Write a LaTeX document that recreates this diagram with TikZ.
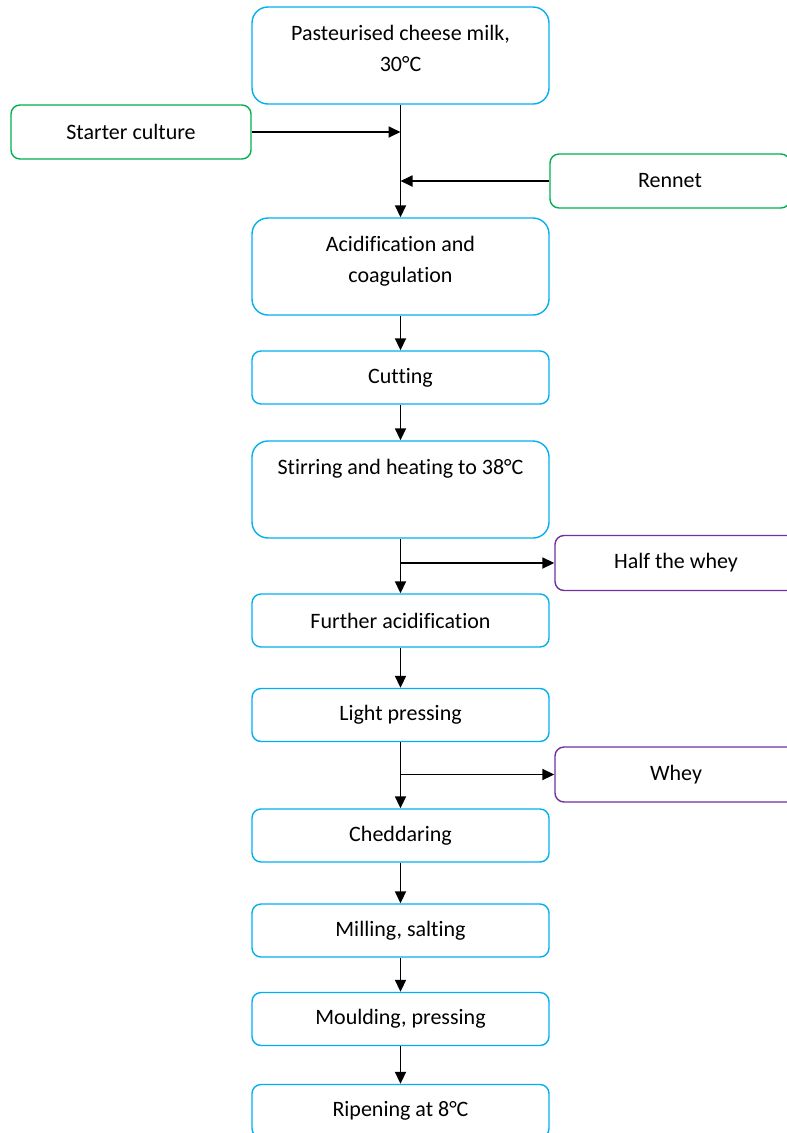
\documentclass[tikz,border=0pt]{standalone}
\usepackage{fontspec}
\setmainfont{Carlito}[Ligatures=NoCommon]
\usetikzlibrary{arrows.meta}
\definecolor{cblue}{HTML}{00B0F0}
\definecolor{cgreen}{HTML}{00B050}
\definecolor{cpurple}{HTML}{7030A0}
\tikzset{
  base/.style={line width=1.4pt, inner sep=0pt, align=center, font=\fontsize{22}{31}\selectfont, text=black},
  stepbox/.style={base, draw=cblue, rounded corners=9pt, minimum width=297pt, minimum height=53pt},
  tallbox/.style={base, draw=cblue, rounded corners=16pt, minimum width=297pt, minimum height=97pt},
  inbox/.style={base, draw=cgreen, rounded corners=9pt, minimum width=240pt, minimum height=54pt},
  outbox/.style={base, draw=cpurple, rounded corners=9pt, minimum width=242pt, minimum height=55pt},
  arr/.style={line width=1.8pt, -{Triangle[length=12pt,width=11pt]}}
}
\begin{document}
\begin{tikzpicture}[x=1pt,y=-1pt]
\useasboundingbox (0,0) rectangle (787,1133);
\fill[white] (0,0) rectangle (787,1133);
\clip (0,0) rectangle (787,1133);
\node[tallbox] (past) at (400.5,55.5) {\parbox[c][97pt][t]{290pt}{\centering\rule{0pt}{33pt}Pasteurised cheese milk,\\30°C}};
\node[inbox] (start) at (131,132) {Starter culture};
\node[inbox] (renn) at (670,181) {Rennet};
\node[tallbox] (acid) at (400.5,266.5) {\parbox[c][97pt][t]{290pt}{\centering\rule{0pt}{33pt}Acidification and\\coagulation}};
\node[stepbox] (cut) at (400.5,377.5) {Cutting};
\node[tallbox] (stir) at (400.5,489.5) {\parbox[c][97pt][t]{290pt}{\centering\rule{0pt}{33pt}Stirring and heating to 38°C}};
\node[outbox] (half) at (676,563) {Half the whey};
\node[stepbox] (fur) at (400.5,620.5) {Further acidification};
\node[stepbox] (light) at (400.5,715) {Light pressing};
\node[outbox] (whey) at (676,774.5) {Whey};
\node[stepbox] (ched) at (400.5,835.5) {Cheddaring};
\node[stepbox] (mill) at (400.5,930.5) {Milling, salting};
\node[stepbox] (mould) at (400.5,1019) {Moulding, pressing};
\node[stepbox] (ripe) at (400.5,1111) {Ripening at 8°C};
\draw[arr] (past.south) -- (acid.north);
\draw[arr] (start.east) -- (past.south |- start.east);
\draw[arr] (renn.west) -- (past.south |- renn.west);
\draw[arr] (acid.south) -- (cut.north);
\draw[arr] (cut.south) -- (stir.north);
\draw[arr] (stir.south) -- (fur.north);
\draw[arr] (stir.south |- half.west) -- (half.west);
\draw[arr] (fur.south) -- (light.north);
\draw[arr] (light.south) -- (ched.north);
\draw[arr] (light.south |- whey.west) -- (whey.west);
\draw[arr] (ched.south) -- (mill.north);
\draw[arr] (mill.south) -- (mould.north);
\draw[arr] (mould.south) -- (ripe.north);
\end{tikzpicture}
\end{document}
